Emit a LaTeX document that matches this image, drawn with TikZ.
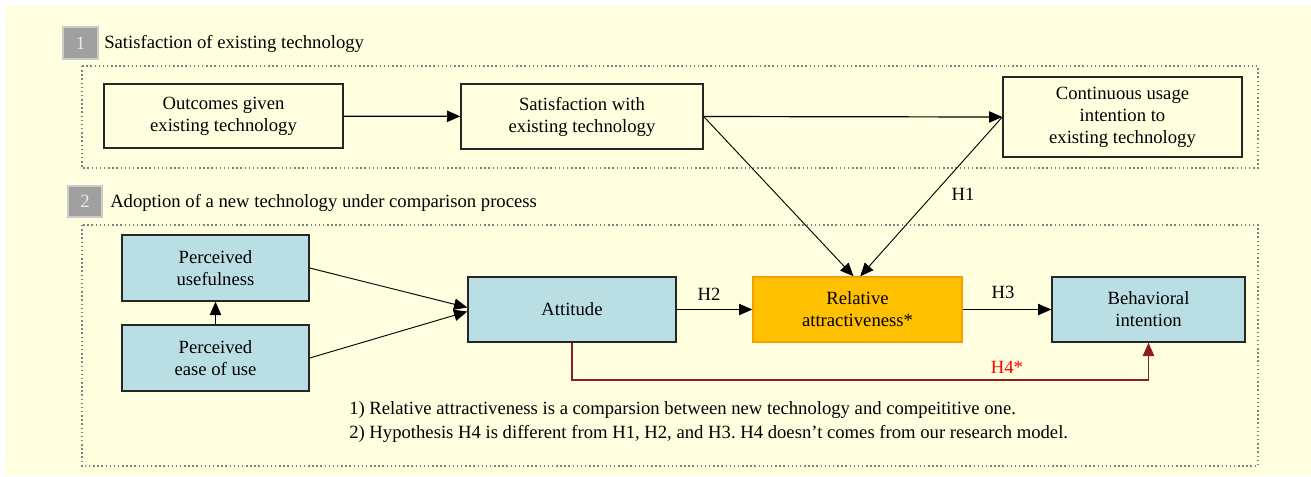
\documentclass[tikz,border=0pt]{standalone}
\usepackage{fontspec}
\setmainfont{Liberation Serif}
\usetikzlibrary{arrows.meta}
\definecolor{paper}{RGB}{255,255,224}
\definecolor{boxblue}{RGB}{185,223,228}
\definecolor{relgold}{RGB}{255,192,0}
\definecolor{relrim}{RGB}{245,160,0}
\definecolor{labgray}{RGB}{160,160,160}
\definecolor{hfour}{RGB}{140,30,30}
\frenchspacing
\begin{document}
\begin{tikzpicture}[x=0.75pt,y=-0.75pt,
  every node/.style={font=\fontsize{14pt}{16.5pt}\selectfont},
  plainbox/.style={draw=black!85, line width=1pt, fill=paper, align=center, inner sep=0pt},
  bluebox/.style={draw=black!85, line width=1pt, fill=boxblue, align=center, inner sep=0pt},
  goldbox/.style={draw=relrim, line width=1pt, fill=relgold, align=center, inner sep=0pt},
  numbox/.style={draw=black!20, line width=0.8pt, fill=labgray, text=white!92!black, inner sep=0pt},
  frame/.style={draw=black!50, line width=1.1pt, dotted},
  arr/.style={line width=0.9pt, -{Triangle[length=10pt,width=8.5pt]}},
  thinarr/.style={line width=0.7pt, -{Triangle[length=10pt,width=8.5pt]}},
  hline/.style={draw=hfour, line width=0.9pt, -{Triangle[length=10pt,width=8.5pt]}}]
\useasboundingbox (0,0) rectangle (1311,476);
\fill[white] (0,0) rectangle (1311,476);
\fill[paper] (6,6) rectangle (1311,476);
\draw[frame] (82,66) rectangle (1258,168);
\draw[frame] (82,225) rectangle (1258,466);
\node[numbox, minimum width=26.25pt, minimum height=24pt] (lab1) at (80.5,43){1};
\node[anchor=west, inner sep=0pt] (sec1) at (104,44){Satisfaction of existing technology};
\node[numbox, minimum width=25.5pt, minimum height=23.25pt] (lab2) at (85,201.5){2};
\node[anchor=west, inner sep=0pt] (sec2) at (110,203){Adoption of a new technology under comparison process};
\node[plainbox, minimum width=179.25pt, minimum height=48pt] (outc) at (223.5,116){Outcomes given\\existing technology};
\node[plainbox, minimum width=181.5pt, minimum height=48.75pt] (sat) at (582,116.5){Satisfaction with\\existing technology};
\node[plainbox, minimum width=179.25pt, minimum height=60pt] (cont) at (1122.5,117){Continuous usage\\intention to\\existing technology};
\node[bluebox, minimum width=140.25pt, minimum height=49.5pt] (pu) at (215.5,268){Perceived\\usefulness};
\node[bluebox, minimum width=140.25pt, minimum height=49.5pt] (peou) at (215.5,358){Perceived\\ease of use};
\node[bluebox, minimum width=156pt, minimum height=48.75pt] (att) at (572,309.5){Attitude};
\node[goldbox, minimum width=156.75pt, minimum height=48.75pt] (rel) at (857.5,309.5){Relative\\attractiveness*};
\node[bluebox, minimum width=144.75pt, minimum height=48.75pt] (beh) at (1148.5,309.5){Behavioral\\intention};
\coordinate (h4y) at (0,380);
\draw[arr](outc) -- (sat);
\draw[arr](sat.east) -- (cont.west);
\draw[thinarr](sat.east) -- ([xshift=-3pt]rel.north);
\draw[thinarr](cont.west) -- ([xshift=2pt]rel.north);
\draw[arr](peou) -- (pu);
\draw[thinarr](pu.east) -- ([yshift=1.5pt]att.west);
\draw[thinarr](peou.east) -- ([yshift=-1.5pt]att.west);
\draw[arr](att) -- (rel);
\draw[arr](rel) -- (beh);
\draw[hline](att.south) -- (att.south |- h4y) -| (beh.south);
\node (h1) at (963,194){H1};
\node (h2) at (709,294){H2};
\node (h3) at (1003,292){H3};
\node[text=red] (h4) at (1007,367){H4*};
\node[anchor=west, inner sep=0pt] (fn1) at (349,410){1) Relative attractiveness is a comparsion between new technology and compeititive one.};
\node[anchor=west, inner sep=0pt] (fn2) at (349,434){2) Hypothesis H4 is different from H1, H2, and H3. H4 doesn’t comes from our research model.};
\end{tikzpicture}
\end{document}
